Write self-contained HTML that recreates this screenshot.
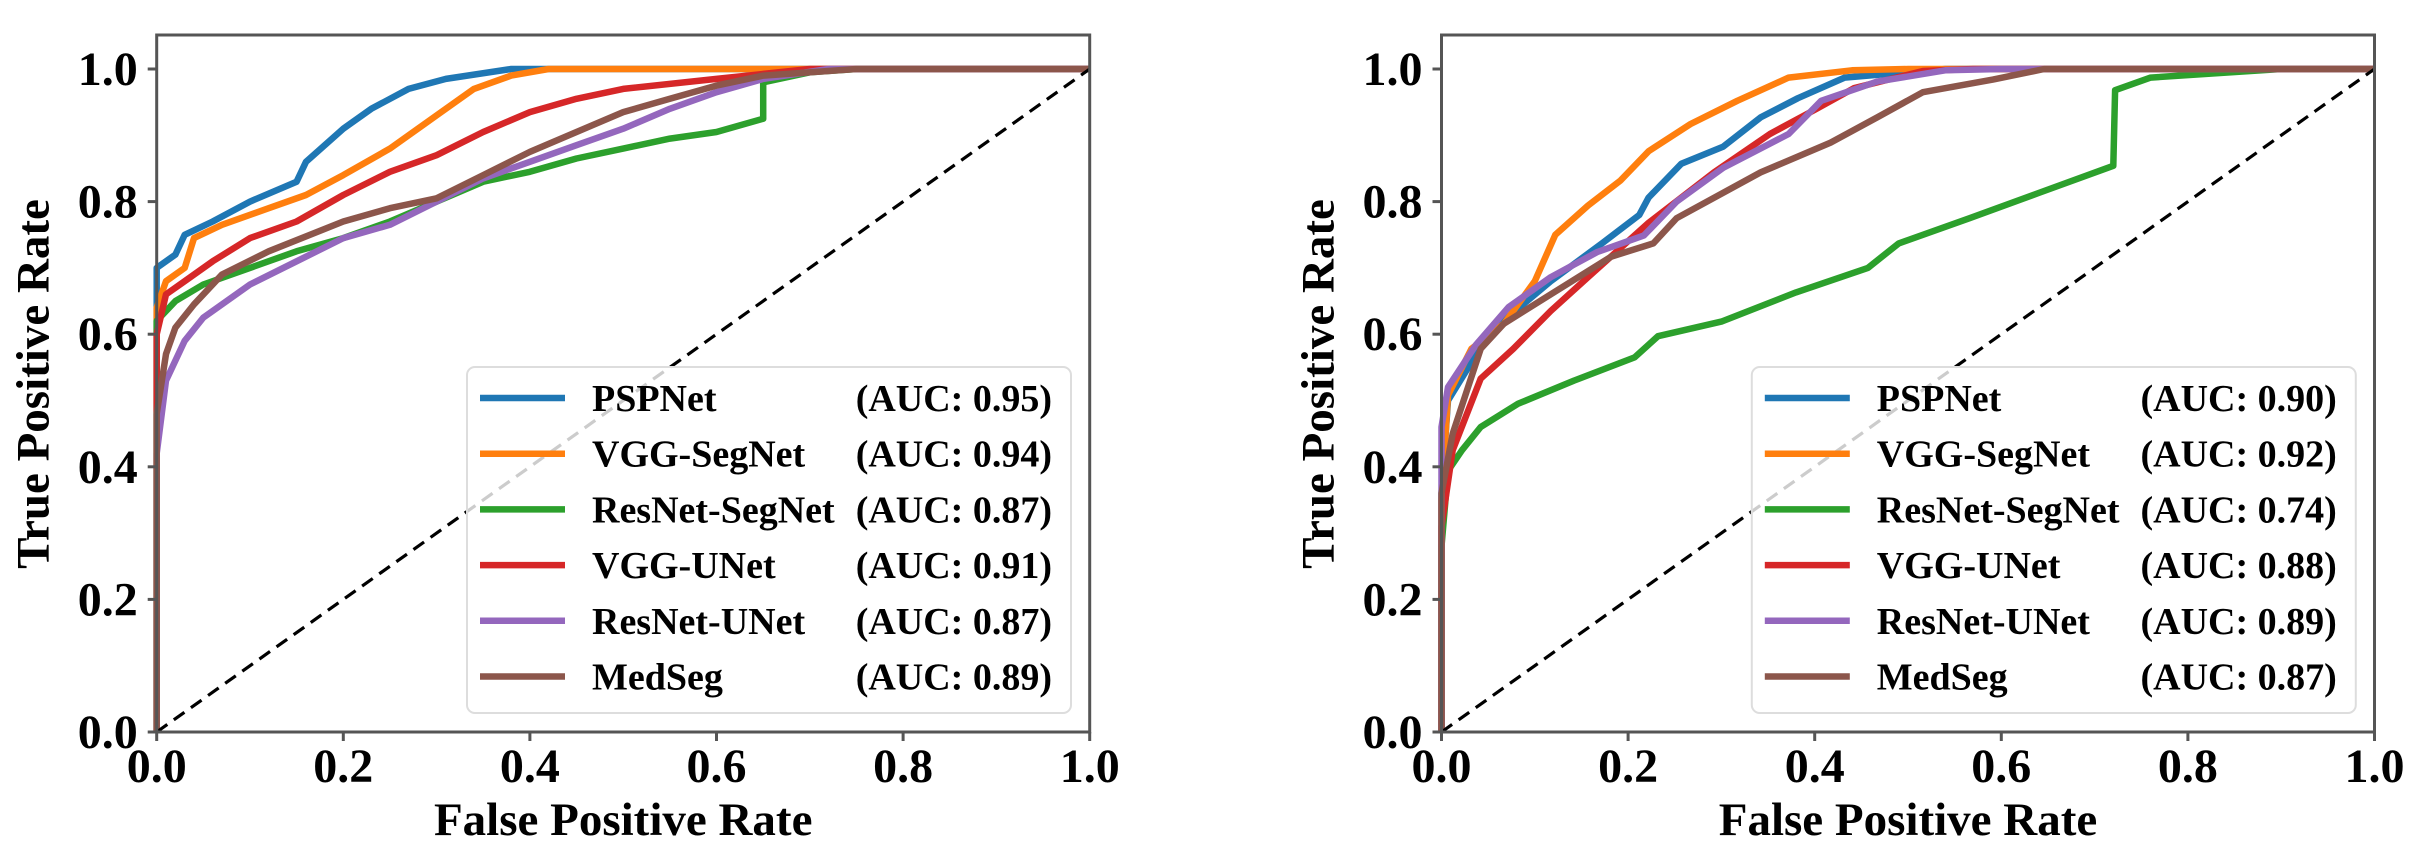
<!DOCTYPE html>
<html><head><meta charset="utf-8">
<style>
html,body{margin:0;padding:0;background:#fff;}
svg{display:block;}
text{font-family:"Liberation Serif",serif;font-weight:bold;fill:#000;}
</style></head>
<body>
<svg id="fig" width="2410" height="856" viewBox="0 0 2410 856" xmlns="http://www.w3.org/2000/svg"></svg>
<script>
const seriesNames = ["PSPNet","VGG-SegNet","ResNet-SegNet","VGG-UNet","ResNet-UNet","MedSeg"];
const seriesColors = ["#1f77b4","#ff7f0e","#2ca02c","#d62728","#9467bd","#8c564b"];
const xTicks = [0,0.2,0.4,0.6,0.8,1.0];
const yTicks = [0,0.2,0.4,0.6,0.8,1.0];
const tickLabels = ["0.0","0.2","0.4","0.6","0.8","1.0"];
const aucLeft = ["0.95","0.94","0.87","0.91","0.87","0.89"];
const aucRight = ["0.90","0.92","0.74","0.88","0.89","0.87"];

const leftPSPNet = [[0,0],[0,0.70],[0.02,0.72],[0.03,0.75],[0.06,0.77],[0.1,0.80],[0.15,0.83],[0.16,0.86],[0.2,0.91],[0.23,0.94],[0.27,0.97],[0.31,0.985],[0.38,1.0],[1,1]];
const leftVGGSegNet = [[0,0],[0,0.64],[0.01,0.68],[0.03,0.70],[0.04,0.745],[0.07,0.765],[0.12,0.79],[0.16,0.81],[0.2,0.84],[0.25,0.88],[0.3,0.93],[0.34,0.97],[0.38,0.99],[0.42,1.0],[1,1]];
const leftResNetSegNet = [[0,0],[0,0.62],[0.02,0.65],[0.05,0.675],[0.1,0.70],[0.15,0.725],[0.2,0.745],[0.25,0.77],[0.3,0.80],[0.35,0.83],[0.4,0.845],[0.45,0.865],[0.5,0.88],[0.55,0.895],[0.6,0.905],[0.65,0.925],[0.65,0.98],[0.7,0.995],[0.75,1.0],[1,1]];
const leftVGGUNet = [[0,0],[0,0.60],[0.01,0.66],[0.03,0.68],[0.06,0.71],[0.1,0.745],[0.15,0.77],[0.2,0.81],[0.25,0.845],[0.3,0.87],[0.35,0.905],[0.4,0.935],[0.45,0.955],[0.5,0.97],[0.6,0.985],[0.7,1.0],[1,1]];
const leftResNetUNet = [[0,0],[0,0.42],[0.01,0.53],[0.03,0.59],[0.05,0.625],[0.1,0.675],[0.15,0.71],[0.2,0.745],[0.25,0.765],[0.3,0.80],[0.35,0.835],[0.4,0.86],[0.45,0.885],[0.5,0.91],[0.55,0.94],[0.6,0.965],[0.65,0.985],[0.72,1.0],[1,1]];
const leftMedSeg = [[0,0],[0,0.48],[0.01,0.57],[0.02,0.61],[0.04,0.645],[0.07,0.69],[0.12,0.725],[0.2,0.77],[0.25,0.79],[0.3,0.805],[0.35,0.84],[0.4,0.875],[0.45,0.905],[0.5,0.935],[0.55,0.955],[0.6,0.975],[0.65,0.99],[0.75,1.0],[1,1]];

const rightPSPNet = [[0,0],[0,0.36],[0.007,0.5],[0.052,0.603],[0.117,0.68],[0.172,0.737],[0.212,0.78],[0.222,0.806],[0.257,0.857],[0.302,0.883],[0.342,0.927],[0.382,0.956],[0.432,0.987],[0.54,1.0],[1,1]];
const rightVGGSegNet = [[0,0],[0,0.35],[0.007,0.508],[0.032,0.578],[0.067,0.616],[0.1,0.68],[0.122,0.75],[0.157,0.794],[0.192,0.832],[0.222,0.876],[0.267,0.917],[0.317,0.952],[0.372,0.987],[0.44,0.998],[0.5,1.0],[1,1]];
const rightResNetSegNet = [[0,0],[0,0.28],[0.007,0.394],[0.022,0.425],[0.042,0.46],[0.082,0.495],[0.142,0.53],[0.207,0.565],[0.232,0.597],[0.30,0.619],[0.38,0.663],[0.457,0.70],[0.49,0.737],[0.566,0.775],[0.64,0.813],[0.72,0.854],[0.722,0.968],[0.76,0.987],[0.9,1.0],[1,1]];
const rightVGGUNet = [[0,0],[0,0.31],[0.012,0.425],[0.042,0.533],[0.077,0.578],[0.117,0.635],[0.157,0.686],[0.222,0.768],[0.292,0.844],[0.352,0.902],[0.402,0.94],[0.442,0.971],[0.516,0.997],[0.57,1.0],[1,1]];
const rightResNetUNet = [[0,0],[0,0.46],[0.007,0.52],[0.037,0.584],[0.072,0.641],[0.117,0.686],[0.167,0.724],[0.217,0.749],[0.252,0.8],[0.302,0.851],[0.372,0.902],[0.407,0.952],[0.467,0.981],[0.54,0.998],[0.6,1.0],[1,1]];
const rightMedSeg = [[0,0],[0,0.36],[0.012,0.45],[0.042,0.578],[0.067,0.616],[0.117,0.66],[0.182,0.717],[0.227,0.737],[0.252,0.775],[0.342,0.844],[0.417,0.889],[0.467,0.927],[0.516,0.965],[0.591,0.984],[0.646,1.0],[1,1]];

const leftData = [leftPSPNet,leftVGGSegNet,leftResNetSegNet,leftVGGUNet,leftResNetUNet,leftMedSeg];
const rightData = [rightPSPNet,rightVGGSegNet,rightResNetSegNet,rightVGGUNet,rightResNetUNet,rightMedSeg];

const NS = "http://www.w3.org/2000/svg";
const svg = document.getElementById("fig");
function mk(tag, attrs, parent){
  const e = document.createElementNS(NS, tag);
  for (const k in attrs) e.setAttribute(k, attrs[k]);
  (parent||svg).appendChild(e);
  return e;
}

function drawPanel(x0, data, aucs, side){
  const W = 933, yBottom = 732, yTop1 = 69, top = 35;
  const sx = v => x0 + v*W;
  const sy = v => yBottom - v*(yBottom - yTop1);
  const g = mk("g", {});
  
  

  data.forEach((pts, i) => {
    const p = mk("polyline", {points: pts.map(q => sx(q[0]).toFixed(1)+","+sy(q[1]).toFixed(1)).join(" "),
      fill:"none", stroke: seriesColors[i], "stroke-width":6.5, "stroke-linejoin":"round"}, g);
    
    
  });
  const d = mk("line", {x1:sx(0), y1:sy(0), x2:sx(1), y2:sy(1), stroke:"#000", "stroke-width":3.2, "stroke-dasharray":"13,8"}, g);
  
  

  const fr = mk("rect", {x:x0, y:top, width:W, height:yBottom-top, fill:"none", stroke:"#555", "stroke-width":3}, g);
  
  

  xTicks.forEach((t,i) => {
    mk("line", {x1:sx(t), y1:yBottom, x2:sx(t), y2:yBottom+9, stroke:"#555", "stroke-width":3}, g);
    const tx = mk("text", {x:sx(t), y:yBottom+50, "font-size":48, "text-anchor":"middle"}, g);
    tx.textContent = tickLabels[i];
    
    
  });
  yTicks.forEach((t,i) => {
    mk("line", {x1:x0-9, y1:sy(t), x2:x0, y2:sy(t), stroke:"#555", "stroke-width":3}, g);
    const ty = mk("text", {x:x0-19, y:sy(t)+16, "font-size":48, "text-anchor":"end"}, g);
    ty.textContent = tickLabels[i];
    
    
  });
  const xt = mk("text", {x:x0+W/2, y:835, "font-size":47, "text-anchor":"middle"}, g);
  xt.textContent = "False Positive Rate";
  
  
  const ytx = x0 - 108, yty = 384;
  const yt = mk("text", {x:ytx, y:yty, "font-size":47, "text-anchor":"middle", transform:"rotate(-90 "+ytx+" "+yty+")"}, g);
  yt.textContent = "True Positive Rate";
  
  

  const off = x0 - 156.7;
  const lg = mk("g", {}, g);
  
  
  mk("rect", {x:467+off, y:367, width:604, height:346, rx:8, fill:"#fff", "fill-opacity":0.8, stroke:"#ddd", "stroke-width":2}, lg);
  seriesNames.forEach((n,i) => {
    const yy = 398 + i*55.7;
    const e = mk("g", {}, lg);
    
    
    mk("line", {x1:480+off, y1:yy, x2:565+off, y2:yy, stroke:seriesColors[i], "stroke-width":6.5}, e);
    const t1 = mk("text", {x:592+off, y:yy+13, "font-size":38}, e);
    t1.textContent = n;
    const t2 = mk("text", {x:1052+off, y:yy+13, "font-size":38, "text-anchor":"end"}, e);
    t2.textContent = "(AUC: " + aucs[i] + ")";
  });
}
drawPanel(156.7, leftData, aucLeft, "left");
drawPanel(1441.5, rightData, aucRight, "right");
</script>
</body></html>
